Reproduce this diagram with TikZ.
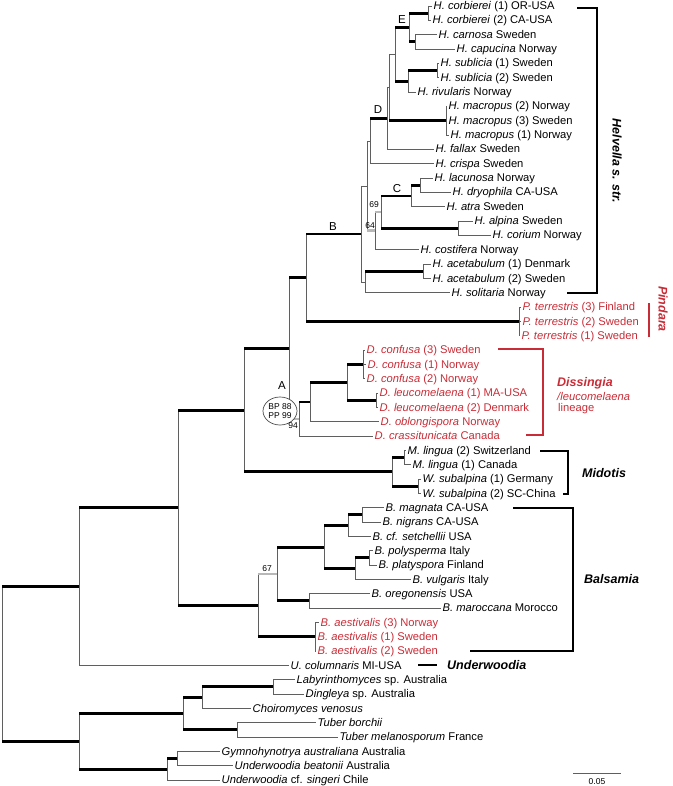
\documentclass[tikz,border=0pt]{standalone}
\usepackage{fontspec}
\setmainfont{Liberation Sans}
\usetikzlibrary{shapes.geometric}
\definecolor{pred}{RGB}{200,45,55}
\definecolor{thingray}{RGB}{95,95,95}
\tikzset{
 vl/.style={line width=0.9pt, draw=thingray},
 tb/.style={line width=0.9pt, draw=thingray},
 kb/.style={line width=2.8pt, draw=black},
 gb/.style={line width=2.8pt, draw=black!28},
 leaf/.style={anchor=west, inner xsep=1.5pt, inner ysep=0pt, text height=8pt, text depth=0.6pt, font=\fontsize{11.2}{13}\selectfont},
 rleaf/.style={leaf, text=pred},
 clab/.style={font=\fontsize{11.5}{13}\selectfont, inner sep=0pt},
 slab/.style={font=\fontsize{8.5}{9}\selectfont, inner sep=0pt},
 grp/.style={font=\fontsize{12.5}{14}\selectfont\bfseries\itshape, inner sep=0pt},
 brk/.style={line width=1.1pt, draw=black},
 rbrk/.style={line width=1.1pt, draw=pred},
}
\newcommand{\Vt}[3]{\draw[vl] (#1 |- #2) -- (#1 |- #3);}
\newcommand{\Hb}[3]{\draw[#1] (#2 |- #3) -- (#3);}
\begin{document}
\begin{tikzpicture}[x=1pt,y=-1pt]
\useasboundingbox (0,0) rectangle (672,786);
% leaves
\node[leaf] (l1) at (432,6.0) {\textit{H. corbierei} (1) OR-USA};
\node[leaf] (l2) at (431,20.3) {\textit{H. corbierei} (2) CA-USA};
\node[leaf] (l3) at (437,34.7) {\textit{H. carnosa} Sweden};
\node[leaf] (l4) at (455,49.0) {\textit{H. capucina} Norway};
\node[leaf] (l5) at (439,63.3) {\textit{H. sublicia} (1) Sweden};
\node[leaf] (l6) at (439,77.7) {\textit{H. sublicia} (2) Sweden};
\node[leaf] (l7) at (416,92.0) {\textit{H. rivularis} Norway};
\node[leaf] (l8) at (447,106.3) {\textit{H. macropus} (2) Norway};
\node[leaf] (l9) at (447,120.7) {\textit{H. macropus} (3) Sweden};
\node[leaf] (l10) at (449,135.0) {\textit{H. macropus} (1) Norway};
\node[leaf] (l11) at (434,149.3) {\textit{H. fallax} Sweden};
\node[leaf] (l12) at (434,163.7) {\textit{H. crispa} Sweden};
\node[leaf] (l13) at (433,178.0) {\textit{H. lacunosa} Norway};
\node[leaf] (l14) at (451,192.3) {\textit{H. dryophila} CA-USA};
\node[leaf] (l15) at (445,206.7) {\textit{H. atra} Sweden};
\node[leaf] (l16) at (473,221.0) {\textit{H. alpina} Sweden};
\node[leaf] (l17) at (491,235.3) {\textit{H. corium} Norway};
\node[leaf] (l18) at (419,249.7) {\textit{H. costifera} Norway};
\node[leaf] (l19) at (431,264.0) {\textit{H. acetabulum} (1) Denmark};
\node[leaf] (l20) at (431,278.3) {\textit{H. acetabulum} (2) Sweden};
\node[leaf] (l21) at (450,292.7) {\textit{H. solitaria} Norway};
\node[rleaf] (l22) at (521,307.0) {\textit{P. terrestris} (3) Finland};
\node[rleaf] (l23) at (521,321.3) {\textit{P. terrestris} (2) Sweden};
\node[rleaf] (l24) at (520,335.7) {\textit{P. terrestris} (1) Sweden};
\node[rleaf] (l25) at (365,350.0) {\textit{D. confusa} (3) Sweden};
\node[rleaf] (l26) at (366,364.3) {\textit{D. confusa} (1) Norway};
\node[rleaf] (l27) at (365,378.7) {\textit{D. confusa} (2) Norway};
\node[rleaf] (l28) at (378,393.0) {\textit{D. leucomelaena} (1) MA-USA};
\node[rleaf] (l29) at (378,407.3) {\textit{D. leucomelaena} (2) Denmark};
\node[rleaf] (l30) at (379,421.7) {\textit{D. oblongispora} Norway};
\node[rleaf] (l31) at (373,436.0) {\textit{D. crassitunicata} Canada};
\node[leaf] (l32) at (406,450.3) {\textit{M. lingua} (2) Switzerland};
\node[leaf] (l33) at (411,464.7) {\textit{M. lingua} (1) Canada};
\node[leaf] (l34) at (421,479.0) {\textit{W. subalpina} (1) Germany};
\node[leaf] (l35) at (421,493.3) {\textit{W. subalpina} (2) SC-China};
\node[leaf] (l36) at (384,507.7) {\textit{B. magnata} CA-USA};
\node[leaf] (l37) at (381,522.0) {\textit{B. nigrans} CA-USA};
\node[leaf] (l38) at (371,536.3) {\textit{B. cf. setchellii} USA};
\node[leaf] (l39) at (373,550.7) {\textit{B. polysperma} Italy};
\node[leaf] (l40) at (377,565.0) {\textit{B. platyspora} Finland};
\node[leaf] (l41) at (411,579.3) {\textit{B. vulgaris} Italy};
\node[leaf] (l42) at (370,593.7) {\textit{B. oregonensis} USA};
\node[leaf] (l43) at (441,608.0) {\textit{B. maroccana} Morocco};
\node[rleaf] (l44) at (319,622.3) {\textit{B. aestivalis} (3) Norway};
\node[rleaf] (l45) at (316,636.7) {\textit{B. aestivalis} (1) Sweden};
\node[rleaf] (l46) at (316,651.0) {\textit{B. aestivalis} (2) Sweden};
\node[leaf] (l47) at (289,665.3) {\textit{U. columnaris} MI-USA};
\node[leaf] (l48) at (295,679.7) {\textit{Labyrinthomyces} sp. Australia};
\node[leaf] (l49) at (304,694.0) {\textit{Dingleya} sp. Australia};
\node[leaf] (l50) at (251,708.3) {\textit{Choiromyces venosus}};
\node[leaf] (l51) at (316,722.7) {\textit{Tuber borchii}};
\node[leaf] (l52) at (338,737.0) {\textit{Tuber melanosporum} France};
\node[leaf] (l53) at (220,751.3) {\textit{Gymnohynotrya australiana} Australia};
\node[leaf] (l54) at (233,765.7) {\textit{Underwoodia beatonii} Australia};
\node[leaf] (l55) at (220,780.0) {\textit{Underwoodia} cf. \textit{singeri} Chile};
% internal nodes
\coordinate (corb) at (428,13.2);
\coordinate (carn) at (415,41.8);
\coordinate (E) at (409,27.5);
\coordinate (subl) at (437,70.5);
\coordinate (SR) at (408,81.3);
\coordinate (Z) at (395,54.4);
\coordinate (macr) at (446,120.7);
\coordinate (Y) at (389,87.6);
\coordinate (D) at (387,118.5);
\coordinate (Dc) at (370,141.1);
\coordinate (lacd) at (420,185.2);
\coordinate (C) at (411,196.0);
\coordinate (alco) at (458,228.2);
\coordinate (n69) at (381,212.1);
\coordinate (n64) at (375,230.9);
\coordinate (n367) at (367,186.0);
\coordinate (acet) at (423,271.2);
\coordinate (acso) at (365,282.0);
\coordinate (B) at (361,234.0);
\coordinate (Pind) at (519,321.3);
\coordinate (n306) at (306,277.7);
\coordinate (conf) at (363,364.3);
\coordinate (leuc) at (376,400.2);
\coordinate (n347) at (347,382.3);
\coordinate (n310) at (310,402.0);
\coordinate (n299) at (299,419.0);
\coordinate (n289) at (289,348.3);
\coordinate (mli) at (404,457.5);
\coordinate (wsu) at (418,486.2);
\coordinate (Mid) at (392,471.8);
\coordinate (n244) at (244,410.1);
\coordinate (mgn) at (362,514.8);
\coordinate (n348) at (348,525.6);
\coordinate (ppl) at (369,557.8);
\coordinate (n355) at (355,568.6);
\coordinate (n324) at (324,547.1);
\coordinate (orm) at (309,600.8);
\coordinate (n67) at (277,574.0);
\coordinate (aest) at (315,636.7);
\coordinate (Bal) at (258,605.3);
\coordinate (n178) at (178,507.7);
\coordinate (n79) at (79,586.5);
\coordinate (lady) at (273,686.8);
\coordinate (n202) at (202,697.6);
\coordinate (tub) at (237,729.8);
\coordinate (n183) at (183,713.7);
\coordinate (gyub) at (177,758.5);
\coordinate (n167) at (167,769.3);
\coordinate (n79b) at (79,741.5);
\coordinate (root) at (2,664.0);
% verticals
\Vt{corb}{l1.west}{l2.west}
\Vt{carn}{l3.west}{l4.west}
\Vt{E}{corb}{carn}
\Vt{subl}{l5.west}{l6.west}
\Vt{SR}{subl}{l7.west}
\Vt{Z}{E}{SR}
\Vt{macr}{l8.west}{l10.west}
\Vt{Y}{Z}{macr}
\Vt{D}{Y}{l11.west}
\Vt{Dc}{D}{l12.west}
\Vt{lacd}{l13.west}{l14.west}
\Vt{C}{lacd}{l15.west}
\Vt{alco}{l16.west}{l17.west}
\Vt{n69}{C}{alco}
\Vt{n64}{n69}{l18.west}
\Vt{n367}{Dc}{n64}
\Vt{acet}{l19.west}{l20.west}
\Vt{acso}{acet}{l21.west}
\Vt{B}{n367}{acso}
\Vt{Pind}{l22.west}{l24.west}
\Vt{n306}{B}{Pind}
\Vt{conf}{l25.west}{l27.west}
\Vt{leuc}{l28.west}{l29.west}
\Vt{n347}{conf}{leuc}
\Vt{n310}{n347}{l30.west}
\Vt{n299}{n310}{l31.west}
\Vt{n289}{n306}{n299}
\Vt{mli}{l32.west}{l33.west}
\Vt{wsu}{l34.west}{l35.west}
\Vt{Mid}{mli}{wsu}
\Vt{n244}{n289}{Mid}
\Vt{mgn}{l36.west}{l37.west}
\Vt{n348}{mgn}{l38.west}
\Vt{ppl}{l39.west}{l40.west}
\Vt{n355}{ppl}{l41.west}
\Vt{n324}{n348}{n355}
\Vt{orm}{l42.west}{l43.west}
\Vt{n67}{n324}{orm}
\Vt{aest}{l44.west}{l46.west}
\Vt{Bal}{n67}{aest}
\Vt{n178}{n244}{Bal}
\Vt{n79}{n178}{l47.west}
\Vt{lady}{l48.west}{l49.west}
\Vt{n202}{lady}{l50.west}
\Vt{tub}{l51.west}{l52.west}
\Vt{n183}{n202}{tub}
\Vt{gyub}{l53.west}{l54.west}
\Vt{n167}{gyub}{l55.west}
\Vt{n79b}{n183}{n167}
\Vt{root}{n79}{n79b}
% terminal branches
\Hb{tb}{corb}{l1.west} \Hb{tb}{corb}{l2.west}
\Hb{tb}{carn}{l3.west} \Hb{tb}{carn}{l4.west}
\Hb{tb}{subl}{l5.west} \Hb{tb}{subl}{l6.west}
\Hb{tb}{SR}{l7.west}
\Hb{tb}{macr}{l8.west} \Hb{tb}{macr}{l9.west} \Hb{tb}{macr}{l10.west}
\Hb{tb}{D}{l11.west} \Hb{tb}{Dc}{l12.west}
\Hb{tb}{lacd}{l13.west} \Hb{tb}{lacd}{l14.west}
\Hb{tb}{C}{l15.west}
\Hb{tb}{alco}{l16.west} \Hb{tb}{alco}{l17.west}
\Hb{tb}{n64}{l18.west}
\Hb{tb}{acet}{l19.west} \Hb{tb}{acet}{l20.west}
\Hb{tb}{acso}{l21.west}
\Hb{tb}{Pind}{l22.west} \Hb{tb}{Pind}{l23.west} \Hb{tb}{Pind}{l24.west}
\Hb{tb}{conf}{l25.west} \Hb{tb}{conf}{l26.west} \Hb{tb}{conf}{l27.west}
\Hb{tb}{leuc}{l28.west} \Hb{tb}{leuc}{l29.west}
\Hb{tb}{n310}{l30.west} \Hb{tb}{n299}{l31.west}
\Hb{tb}{mli}{l32.west} \Hb{tb}{mli}{l33.west}
\Hb{tb}{wsu}{l34.west} \Hb{tb}{wsu}{l35.west}
\Hb{tb}{mgn}{l36.west} \Hb{tb}{mgn}{l37.west}
\Hb{tb}{n348}{l38.west}
\Hb{tb}{ppl}{l39.west} \Hb{tb}{ppl}{l40.west}
\Hb{tb}{n355}{l41.west}
\Hb{tb}{orm}{l42.west} \Hb{tb}{orm}{l43.west}
\Hb{tb}{aest}{l44.west} \Hb{tb}{aest}{l45.west} \Hb{tb}{aest}{l46.west}
\Hb{tb}{n79}{l47.west}
\Hb{tb}{lady}{l48.west} \Hb{tb}{lady}{l49.west}
\Hb{tb}{n202}{l50.west}
\Hb{tb}{tub}{l51.west} \Hb{tb}{tub}{l52.west}
\Hb{tb}{gyub}{l53.west} \Hb{tb}{gyub}{l54.west}
\Hb{tb}{n167}{l55.west}
% internal branches
\Hb{tb}{Y}{Z} \Hb{tb}{D}{Y} \Hb{tb}{n367}{Dc} \Hb{tb}{B}{n367} \Hb{tb}{B}{acso}
\Hb{gb}{n64}{n69} \Hb{gb}{n367}{n64} \Hb{gb}{n289}{n299} \Hb{gb}{Bal}{n67}
\Hb{kb}{E}{corb} \Hb{kb}{E}{carn} \Hb{kb}{Z}{E} \Hb{kb}{SR}{subl} \Hb{kb}{Z}{SR}
\Hb{kb}{Y}{macr} \Hb{kb}{Dc}{D}
\Hb{kb}{C}{lacd} \Hb{kb}{n69}{C} \Hb{kb}{n69}{alco}
\Hb{kb}{acso}{acet}
\Hb{kb}{n306}{B} \Hb{kb}{n306}{Pind}
\Hb{kb}{n347}{conf} \Hb{kb}{n347}{leuc} \Hb{kb}{n310}{n347} \Hb{kb}{n299}{n310}
\Hb{kb}{n289}{n306}
\Hb{kb}{Mid}{mli} \Hb{kb}{Mid}{wsu}
\Hb{kb}{n244}{n289} \Hb{kb}{n244}{Mid}
\Hb{kb}{n348}{mgn} \Hb{kb}{n355}{ppl} \Hb{kb}{n324}{n348} \Hb{kb}{n324}{n355}
\Hb{kb}{n67}{n324} \Hb{kb}{n67}{orm}
\Hb{kb}{Bal}{aest}
\Hb{kb}{n178}{n244} \Hb{kb}{n178}{Bal}
\Hb{kb}{n79}{n178}
\Hb{kb}{n202}{lady} \Hb{kb}{n183}{n202} \Hb{kb}{n183}{tub}
\Hb{kb}{n167}{gyub}
\Hb{kb}{n79b}{n183} \Hb{kb}{n79b}{n167}
\Hb{kb}{root}{n79} \Hb{kb}{root}{n79b}
% clade letters and support values
\node[clab] (labE) at (402,20) {E};
\node[clab] (labD) at (378,110) {D};
\node[clab] (labC) at (397,189) {C};
\node[clab] (labB) at (333,227) {B};
\node[clab] (labA) at (282,386) {A};
\node[draw=black!70, line width=0.7pt, fill=white, ellipse, minimum width=34pt, minimum height=28pt, inner sep=0pt, font=\fontsize{8.5}{9}\selectfont, align=center] (ellA) at (280,411) {BP 88\\PP 99};
\node[slab] (s69) at (374,205) {69};
\node[slab] (s64) at (370,226) {64};
\node[slab] (s94) at (293,426) {94};
\node[slab] (s67) at (267,569) {67};
% brackets
\coordinate (hb1) at (577,8); \coordinate (hb2) at (597,8);
\coordinate (hb3) at (597,293); \coordinate (hb4) at (567,293);
\draw[brk] (hb1) -- (hb2) -- (hb3) -- (hb4);
\node[grp, rotate=-90] (hlab) at (617,161) {Helvella s. str.};
\coordinate (pb1) at (649,303); \coordinate (pb2) at (649,337);
\draw[rbrk] (pb1) -- (pb2);
\node[grp, rotate=-90, text=pred] (plab) at (663,309) {Pindara};
\coordinate (db1) at (498,349); \coordinate (db2) at (543,349);
\coordinate (db3) at (543,435); \coordinate (db4) at (526,435);
\draw[rbrk] (db1) -- (db2) -- (db3) -- (db4);
\node[grp, anchor=west, text=pred] (dlab1) at (557,383) {Dissingia};
\node[anchor=west, inner sep=0pt, text=pred, font=\fontsize{11.2}{13}\selectfont\itshape] (dlab2) at (557,396) {/leucomelaena};
\node[anchor=west, inner sep=0pt, text=pred, font=\fontsize{11.2}{13}\selectfont] (dlab3) at (558,409) {lineage};
\coordinate (mb1) at (540,451); \coordinate (mb2) at (568,451);
\coordinate (mb3) at (568,494); \coordinate (mb4) at (563,494);
\draw[brk] (mb1) -- (mb2) -- (mb3) -- (mb4);
\node[grp, anchor=west] (mlab) at (582,473) {Midotis};
\coordinate (bb1) at (513,508); \coordinate (bb2) at (573,508);
\coordinate (bb3) at (573,651); \coordinate (bb4) at (470,651);
\draw[brk] (bb1) -- (bb2) -- (bb3) -- (bb4);
\node[grp, anchor=west] (blab) at (584,579) {Balsamia};
\coordinate (ub1) at (418,665); \coordinate (ub2) at (437,665);
\draw[brk] (ub1) -- (ub2);
\node[grp, anchor=west] (ulab) at (447,665) {Underwoodia};
% scale bar
\coordinate (sc1) at (573,773); \coordinate (sc2) at (621,773);
\draw[line width=1pt, draw=thingray] (sc1) -- (sc2);
\node[slab] (sclab) at (597,782) {0.05};
\end{tikzpicture}
\end{document}
